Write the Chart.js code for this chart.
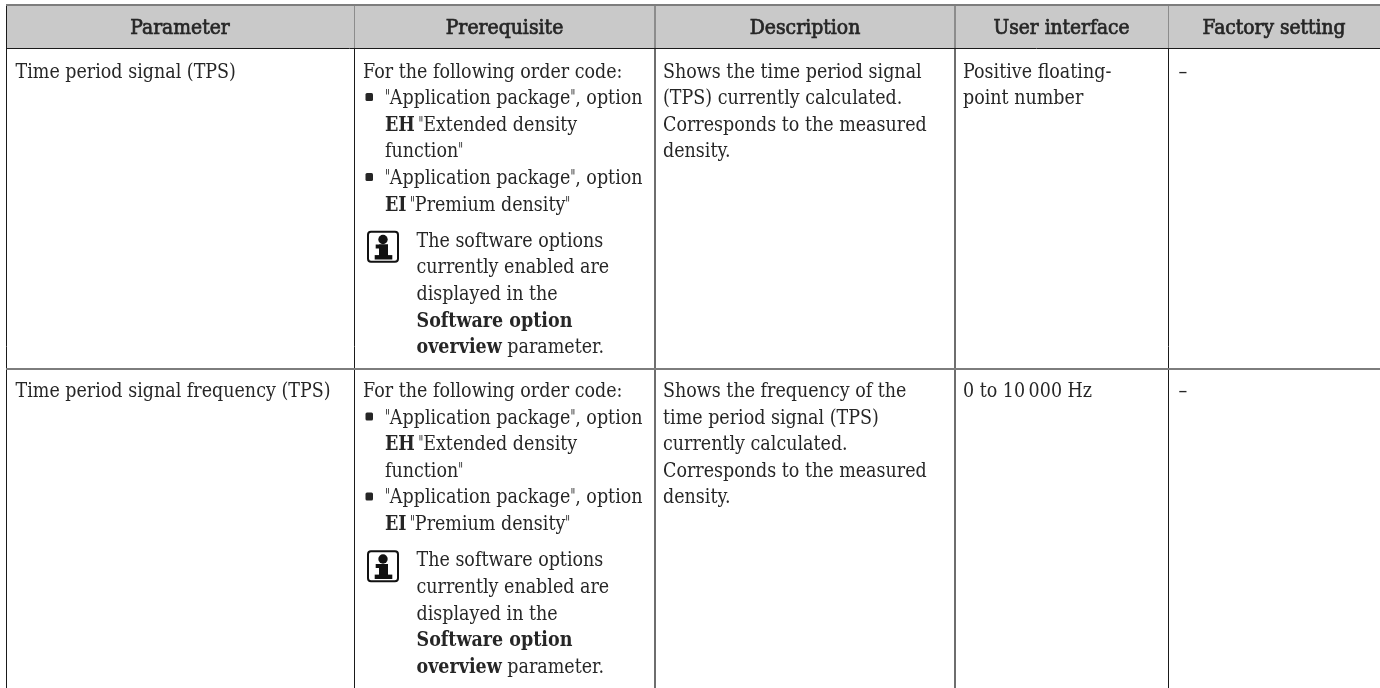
<!DOCTYPE html>
<html><head><meta charset="utf-8">
<style>html,body{margin:0;padding:0;background:#fff;overflow:hidden}canvas{display:block}</style>
<script src="https://cdn.jsdelivr.net/npm/chart.js@4"></script></head>
<body><canvas id="c" width="1380" height="688"></canvas>
<script>
const columnHeaders = ["Parameter","Prerequisite","Description","User interface","Factory setting"];
const columnEdges = [6,354,655,955,1168,1380];
const rowEdges = [5,48,369,688];
const parameterCells = [["Time period signal (TPS)"],["Time period signal frequency (TPS)"]];
const orderCodeIntro = "For the following order code:";
const orderCodeItems = [
  ['"Application package", option','**EH**\u2009"Extended density','function"'],
  ['"Application package", option','**EI**\u2009"Premium density"']
];
const softwareNote = ["The software options","currently enabled are","displayed in the","**Software option**","**overview** parameter."];
const descriptionCells = [
  ["Shows the time period signal","(TPS) currently calculated.","Corresponds to the measured","density."],
  ["Shows the frequency of the","time period signal (TPS)","currently calculated.","Corresponds to the measured","density."]
];
const interfaceCells = [["Positive floating-","point number"],["0 to 10\u2009000 Hz"]];
const factoryCells = [["\u2013"],["\u2013"]];

const FONT='"DejaVu Serif"', SIZE=19.5, LH=26.6, INK='#262626';
const tablePlugin={id:'table',afterDraw(chart){
  const c=chart.ctx,X=v=>chart.scales.x.getPixelForValue(v),Y=v=>chart.scales.y.getPixelForValue(v);
  c.save();
  // softer rules inside the header band
  c.fillStyle='#8c8c8c';
  columnEdges.slice(1,5).forEach((e,i)=>{const two=(i===1||i===2);c.fillRect(X(e)-(two?1:0),Y(rowEdges[0])+1,two?2:1,Y(rowEdges[1])-Y(rowEdges[0])-1);});
  c.fillStyle=INK;c.textBaseline='alphabetic';
  c.font=`${SIZE}px ${FONT}`;
  const sx=315/c.measureText(parameterCells[1][0]).width;
  const piece=(p,cx,y,k)=>{c.save();c.translate(cx,y);c.scale(k,1);c.fillText(p,0,0);c.restore();return c.measureText(p).width*k;};
  const run=(s,x,y)=>{ // x,y in px; supports **bold**, straight quotes set narrower
    let cx=x;
    s.split('**').forEach((p,i)=>{ if(!p)return;
      c.font=`${i%2?'bold ':''}${SIZE}px ${FONT}`;
      p.split('"').forEach((q,j)=>{
        if(j)cx+=piece('"',cx,y,sx*0.6);
        if(q)cx+=piece(q,cx,y,sx);
      });});
  };
  // header: medium weight, regular face with a hairline stroke
  columnHeaders.forEach((h,i)=>{
    c.font=`bold ${SIZE}px ${FONT}`;
    const w=c.measureText(h).width*sx*0.97;
    c.font=`${SIZE}px ${FONT}`;
    const k=w/c.measureText(h).width;
    const mid=(X(columnEdges[i])+X(columnEdges[i+1]))/2;
    c.save();c.translate(mid-w/2,Y(rowEdges[0])+29);c.scale(k,1);
    c.strokeStyle=INK;c.lineWidth=0.7;c.strokeText(h,0,0);c.fillText(h,0,0);c.restore();
  });
  // rows
  for(let r=0;r<2;r++){
    const base=Y(rowEdges[r+1])+(r?28:29.5);
    parameterCells[r].forEach((l,i)=>run(l,X(columnEdges[0])+9.5,base+i*LH));
    descriptionCells[r].forEach((l,i)=>run(l,X(columnEdges[2])+8,base+i*LH));
    interfaceCells[r].forEach((l,i)=>run(l,X(columnEdges[3])+8,base+i*LH));
    factoryCells[r].forEach((l,i)=>run(l,X(columnEdges[4])+10.5,base+i*LH));
    const px=X(columnEdges[1]);
    run(orderCodeIntro,px+9,base);
    let n=1;
    orderCodeItems.forEach(item=>{
      c.beginPath();c.roundRect(px+11.5,base+n*LH-11,7.5,8,1.5);c.fill();
      item.forEach(l=>{run(l,px+31,base+n*LH);n++;});
    });
    const nb=base+n*LH+9.7;
    softwareNote.forEach((l,i)=>run(l,px+62.5,nb+i*LH));
    // information icon
    const ix=px+14,iy=nb-15;
    c.lineWidth=2;c.strokeStyle='#111';c.fillStyle='#111';
    c.beginPath();c.roundRect(ix,iy,30,30,3);c.stroke();
    c.beginPath();c.arc(ix+15,iy+7.7,4.7,0,Math.PI*2);c.fill();
    c.fillRect(ix+7.7,iy+12.7,12.3,4);c.fillRect(ix+11,iy+12.7,9,11.5);c.fillRect(ix+6.7,iy+23.3,17.6,4.4);
    c.fillStyle=INK;
  }
  c.restore();
}};
new Chart(document.getElementById('c'),{
  type:'scatter',
  data:{datasets:[{
    data:[{x:columnEdges[0],y:rowEdges[0]},{x:columnEdges[5],y:rowEdges[0]}],
    showLine:true,pointRadius:0,borderWidth:0,borderColor:'transparent',
    backgroundColor:'#c9c9c9',fill:{value:rowEdges[1]}
  }]},
  options:{
    responsive:false,animation:false,
    layout:{padding:{left:6,top:5,right:0,bottom:0}},
    plugins:{legend:{display:false},tooltip:{enabled:false},table:{}},
    scales:{
      x:{type:'linear',min:6,max:1380,
        afterBuildTicks:a=>{a.ticks=columnEdges.slice(0,5).map(v=>({value:v}));},
        ticks:{display:false,autoSkip:false},border:{display:false},
        grid:{z:1,drawTicks:false,
          color:t=>t.tick&&(t.tick.value===columnEdges[2]||t.tick.value===columnEdges[3])?'#6e6e6e':'#1a1a1a',
          lineWidth:t=>t.tick&&(t.tick.value===columnEdges[2]||t.tick.value===columnEdges[3])?2:1}},
      y:{type:'linear',min:5,max:688,reverse:true,
        afterBuildTicks:a=>{a.ticks=rowEdges.slice(0,3).map(v=>({value:v}));},
        ticks:{display:false,autoSkip:false},border:{display:false},
        grid:{z:1,drawTicks:false,
          color:t=>t.tick&&t.tick.value===rowEdges[1]?'#1a1a1a':'#7d7d7d',
          lineWidth:t=>t.tick&&t.tick.value===rowEdges[1]?1:2}}
    }
  },
  plugins:[tablePlugin]
});
</script></body></html>
